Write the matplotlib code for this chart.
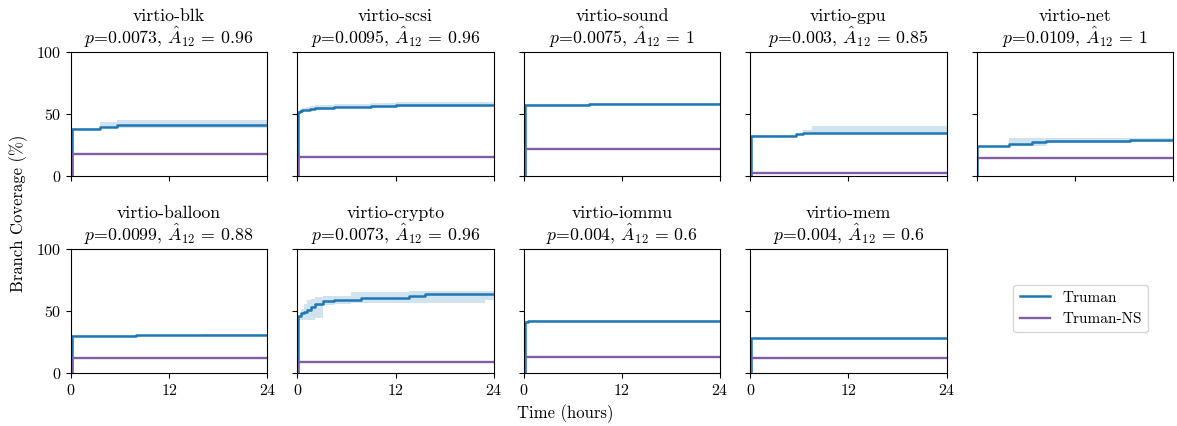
import matplotlib
matplotlib.use('Agg')
import matplotlib.pyplot as plt

plt.rcParams['font.family'] = 'serif'
plt.rcParams['font.serif'] = ['cmr10', 'DejaVu Serif']
plt.rcParams['mathtext.fontset'] = 'cm'
plt.rcParams['axes.formatter.use_mathtext'] = True
plt.rcParams['font.size'] = 11.5

# Panel names and statistics
names = ['virtio-blk', 'virtio-scsi', 'virtio-sound', 'virtio-gpu', 'virtio-net',
         'virtio-balloon', 'virtio-crypto', 'virtio-iommu', 'virtio-mem']
p_values = ['0.0073', '0.0095', '0.0075', '0.003', '0.0109',
            '0.0099', '0.0073', '0.004', '0.004']
a12_values = ['0.96', '0.96', '1', '0.85', '1',
              '0.88', '0.96', '0.6', '0.6']

# Truman: time (hours), median coverage, lower/upper band (%)
truman_t = [
    [0, 0.1, 3.5, 5.6, 24],
    [0, 0.1, 0.3, 0.6, 1.0, 1.5, 2.2, 3, 4.5, 6, 9, 12, 24],
    [0, 0.1, 8, 24],
    [0, 0.1, 5.6, 6.5, 7.5, 24],
    [0, 0.1, 4.0, 6.8, 8.5, 18.8, 24],
    [0, 0.1, 8, 16, 24],
    [0, 0.1, 0.4, 0.8, 1.2, 1.7, 2.1, 3.1, 4.5, 6.6, 7.8, 9.5, 13.6, 15.6, 22.9, 24],
    [0, 0.1, 0.5, 12, 24],
    [0, 0.1, 24],
]
truman_mean = [
    [0, 38, 39.5, 41, 41],
    [0, 51.5, 52.5, 53, 53.5, 54, 54.5, 55, 55.5, 56, 56.5, 57, 57],
    [0, 57.5, 58, 58],
    [0, 32, 33.5, 34.5, 35, 35],
    [0, 24, 25.5, 27, 28, 29, 29],
    [0, 30, 30.5, 31, 31],
    [0, 46, 48, 49.5, 51, 53.5, 56, 58, 58.5, 59, 60.5, 60.7, 62, 63.5, 64, 64],
    [0, 41, 42, 42, 42],
    [0, 28, 28],
]
truman_lo = [
    [0, 38, 38.5, 38.5, 38.5],
    [0, 50.5, 51.5, 52, 52.5, 53, 53.5, 54, 54.5, 54.5, 55, 55.5, 55.5],
    [0, 57, 57.5, 57.5],
    [0, 31.5, 33, 34, 34.5, 34.5],
    [0, 23.5, 24.5, 24.5, 26.5, 27, 27],
    [0, 29.5, 30, 30.5, 30.5],
    [0, 43, 43, 43, 43, 43, 44, 55, 55.5, 56.7, 56.7, 56.7, 56.5, 56.5, 59, 59],
    [0, 40.5, 41.5, 41.5, 41.5],
    [0, 27.5, 27.5],
]
truman_hi = [
    [0, 38.5, 43.5, 45, 45],
    [0, 52.5, 54, 55, 55.5, 56.5, 57, 57.5, 58, 58, 58.5, 59.5, 59.5],
    [0, 58, 58.5, 58.5],
    [0, 33, 34.5, 37, 40, 41],
    [0, 24.5, 30.5, 31, 31, 31, 31],
    [0, 30.5, 31, 31.5, 31.5],
    [0, 47, 52, 56, 59, 60, 61, 62, 62.5, 65.5, 65.5, 65.5, 66, 66, 66, 66],
    [0, 42, 42.5, 42.5, 42.5],
    [0, 28.5, 28.5],
]

# Truman-NS: flat coverage after the first minutes
ns_t = [0, 0.1, 24]
ns_level = [17.5, 15, 22, 2, 14.8, 12, 8.5, 13, 12.5]

blue = '#1f77b4'
purple = '#7e5fa6'

fig, axes = plt.subplots(2, 5, figsize=(11.77, 4.26), dpi=100, sharex=True, sharey=True)
fig.subplots_adjust(left=0.0603, right=0.9966, top=0.878, bottom=0.1244,
                    wspace=0.153, hspace=0.589)

for i, name in enumerate(names):
    ax = axes.flat[i]
    ax.fill_between(truman_t[i], truman_lo[i], truman_hi[i], step='post',
                    color=blue, alpha=0.2, linewidth=0)
    ax.plot(truman_t[i], truman_mean[i], drawstyle='steps-post', color=blue,
            linewidth=1.8, label='Truman')
    ax.plot(ns_t, [0, ns_level[i], ns_level[i]], drawstyle='steps-post',
            color=purple, linewidth=1.7, label='Truman-NS')
    ax.set_title(name + '\n$p$=' + p_values[i] + r', $\hat{A}_{12}\,=\,' + a12_values[i] + '$',
                 fontsize=12.8, pad=6, linespacing=1.05)
    ax.set_xlim(0, 24)
    ax.set_ylim(0, 100)
    ax.set_xticks([0, 12, 24])
    ax.set_yticks([0, 50, 100])

# legend goes in the empty last slot
last = axes[1, 4]
handles, labels = axes[0, 0].get_legend_handles_labels()
last.axis('off')
last.legend(handles, labels, loc='center', bbox_to_anchor=(0.53, 0.52), fontsize=11,
            framealpha=0.8, edgecolor='#cccccc')

fig.text(0.48, 0.03, 'Time (hours)', ha='center', va='center', fontsize=12)
fig.text(0.016, 0.5, 'Branch Coverage (%)', ha='center', va='center',
         rotation='vertical', fontsize=12)

plt.savefig('out.png', dpi=100)
